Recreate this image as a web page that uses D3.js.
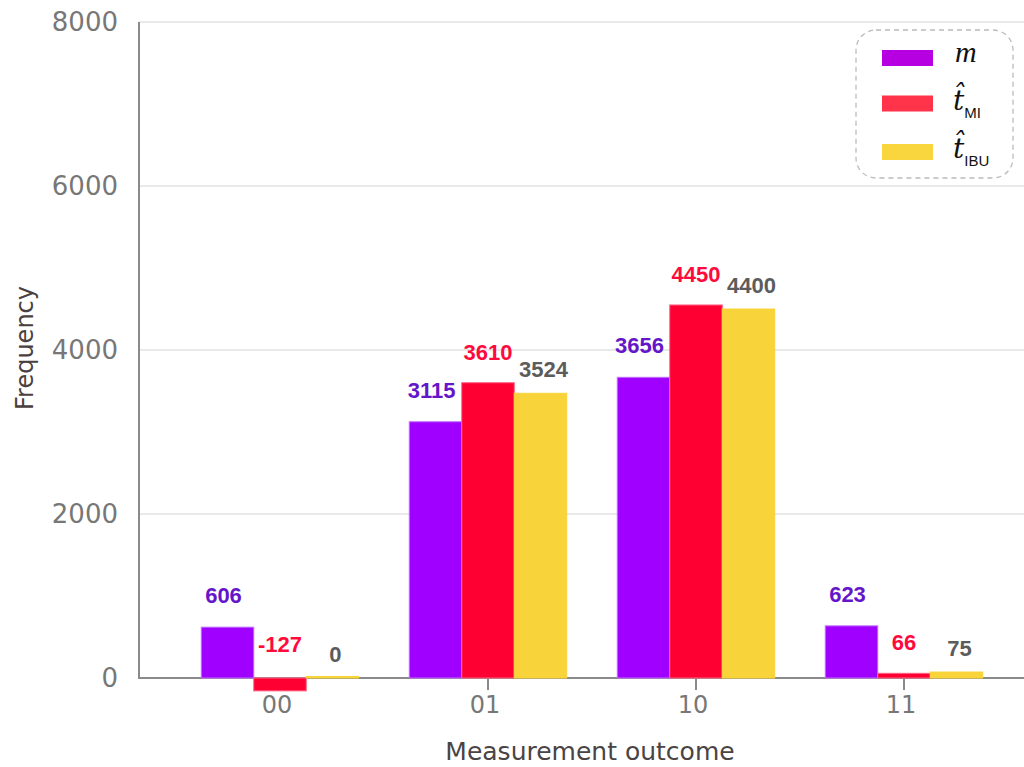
<!DOCTYPE html>
<html>
<head>
<meta charset="utf-8">
<script src="https://cdn.jsdelivr.net/npm/d3@7"></script>
<style>
  html, body { margin: 0; padding: 0; background: #fff; }
  svg { display: block; }
</style>
</head>
<body>
<svg id="chart" width="1024" height="767"></svg>
<script>
// ---- data ----
const categories = ["00", "01", "10", "11"];
const seriesKeys = ["m", "tMI", "tIBU"];
// bar heights
const mValues    = [620, 3125, 3667, 636];
const tMIValues  = [-157, 3601, 4549, 57];
const tIBUValues = [0, 3472, 4500, 73];
// printed value labels
const mLabels    = ["606", "3115", "3656", "623"];
const tMILabels  = ["-127", "3610", "4450", "66"];
const tIBULabels = ["0", "3524", "4400", "75"];
const yTicks = [0, 2000, 4000, 6000, 8000];

const series = [
  {key: "m",    values: mValues,    labels: mLabels},
  {key: "tMI",  values: tMIValues,  labels: tMILabels},
  {key: "tIBU", values: tIBUValues, labels: tIBULabels}
];

const style = {
  m:    {fill: "#9f00ff", stroke: "#c070ff", text: "#6416c8", legend: "#b600e2", dx: -4, off: 24},
  tMI:  {fill: "#ff0033", stroke: "#ff6080", text: "#ff0a3c", legend: "#ff3349", dx: 0,  off: 23},
  tIBU: {fill: "#f8d43a", stroke: "#f8d43a", text: "#5c5c5c", legend: "#f9d63e", dx: 3,  off: 16}
};

const svg = d3.select("#chart");
svg.append("rect").attr("width", 1024).attr("height", 767).attr("fill", "#fff");

const y = d3.scaleLinear().domain([0, 8000]).range([678, 22]);
const x0 = d3.scaleBand().domain(categories).range([176, 1008])
  .paddingInner(0.243).paddingOuter(0.1215);
const x1 = d3.scaleBand().domain(seriesKeys).range([0, x0.bandwidth()]);

const plotLeft = 139, plotRight = 1024;

// gridlines
svg.append("g").selectAll("line").data(yTicks.filter(d => d > 0)).join("line")
  .attr("x1", plotLeft).attr("x2", plotRight)
  .attr("y1", d => y(d)).attr("y2", d => y(d))
  .attr("stroke", "#e2e2e2").attr("stroke-width", 1.5);

// y tick labels
svg.append("g").selectAll("text").data(yTicks).join("text")
  .attr("x", 118).attr("y", d => y(d))
  .attr("dy", "0.36em")
  .attr("text-anchor", "end")
  .attr("font-family", "DejaVu Sans, sans-serif")
  .attr("font-size", 26)
  .attr("fill", "#777")
  .text(d => d);

// axes lines and ticks (below bars)
svg.append("line").attr("x1", plotLeft).attr("x2", plotLeft).attr("y1", 22).attr("y2", 679)
  .attr("stroke", "#8a8a8a").attr("stroke-width", 2);
svg.append("line").attr("x1", plotLeft - 1).attr("x2", plotRight).attr("y1", 678).attr("y2", 678)
  .attr("stroke", "#8a8a8a").attr("stroke-width", 2);
svg.append("g").selectAll("line").data(categories).join("line")
  .attr("x1", d => x0(d) + x0.bandwidth() / 2).attr("x2", d => x0(d) + x0.bandwidth() / 2)
  .attr("y1", 679).attr("y2", 690)
  .attr("stroke", "#8a8a8a").attr("stroke-width", 2);

// bars
const bars = svg.append("g");
series.forEach(s => {
  const st = style[s.key];
  bars.selectAll(null).data(categories.map((c, i) => ({c, v: s.values[i]}))).join("rect")
    .attr("x", d => x0(d.c) + x1(s.key))
    .attr("y", d => y(Math.max(0, d.v)) - (d.v === 0 ? 1.5 : 0))
    .attr("width", x1.bandwidth())
    .attr("height", d => Math.max(1.5, Math.abs(y(d.v) - y(0))))
    .attr("fill", st.fill)
    .attr("stroke", st.stroke)
    .attr("stroke-width", 1);
});

// x tick labels
svg.append("g").selectAll("text").data(categories).join("text")
  .attr("x", d => x0(d) + x0.bandwidth() / 2 - 3).attr("y", 713)
  .attr("text-anchor", "middle")
  .attr("font-family", "DejaVu Sans, sans-serif")
  .attr("font-size", 24)
  .attr("fill", "#777")
  .text(d => d);

// value labels
const lab = svg.append("g");
series.forEach(s => {
  const st = style[s.key];
  lab.selectAll(null).data(categories.map((c, i) => ({c, v: s.values[i], t: s.labels[i]}))).join("text")
    .attr("x", d => x0(d.c) + x1(s.key) + x1.bandwidth() / 2 + st.dx)
    .attr("y", d => y(Math.max(0, d.v)) - (d.v < 0 ? 26 : st.off))
    .attr("text-anchor", "middle")
    .attr("font-family", "Liberation Sans, Arial, sans-serif")
    .attr("font-weight", "bold")
    .attr("font-size", 22)
    .attr("fill", st.text)
    .text(d => d.t);
});

// axis titles
svg.append("text")
  .attr("x", 590).attr("y", 760)
  .attr("text-anchor", "middle")
  .attr("font-family", "DejaVu Sans, sans-serif")
  .attr("font-size", 25)
  .attr("fill", "#4a4444")
  .text("Measurement outcome");
svg.append("text")
  .attr("transform", "translate(33,348) rotate(-90)")
  .attr("text-anchor", "middle")
  .attr("font-family", "DejaVu Sans, sans-serif")
  .attr("font-size", 24)
  .attr("fill", "#4a4040")
  .text("Frequency");

// legend
const lg = svg.append("g");
lg.append("rect").attr("x", 856).attr("y", 30).attr("width", 157).attr("height", 148)
  .attr("rx", 20).attr("ry", 20)
  .attr("fill", "#fff").attr("stroke", "#bbb").attr("stroke-width", 1.3)
  .attr("stroke-dasharray", "5,4");
const legendY = [58, 103.5, 152];
seriesKeys.forEach((k, i) => {
  lg.append("rect").attr("x", 882).attr("y", legendY[i] - 8).attr("width", 51).attr("height", 16)
    .attr("fill", style[k].legend);
});
lg.append("text").attr("x", 955).attr("y", 62)
  .attr("font-family", "Liberation Serif, serif").attr("font-style", "italic")
  .attr("font-size", 30).attr("fill", "#111").text("m");
[["MI", 110], ["IBU", 158]].forEach(([sub, by]) => {
  const t = lg.append("text").attr("x", 953).attr("y", by)
    .attr("font-family", "DejaVu Serif, serif").attr("fill", "#111");
  t.append("tspan").attr("font-style", "italic").attr("font-size", 28).text("t\u0302");
  t.append("tspan").attr("dx", 0).attr("dy", 8)
    .attr("font-family", "Liberation Sans, Arial, sans-serif").attr("font-size", 15).text(sub);
});
</script>
</body>
</html>
